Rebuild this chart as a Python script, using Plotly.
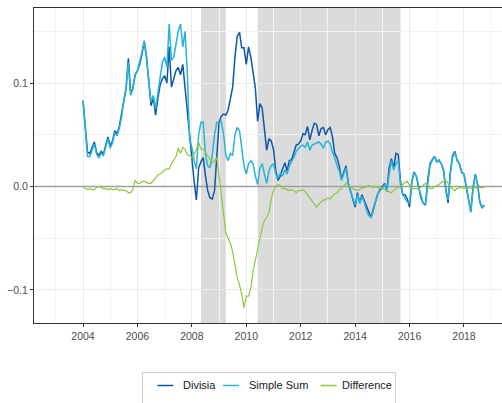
import numpy as np
import plotly.graph_objects as go

# Monthly growth series, Jan 2004 - Oct 2018
start_year = 2004
divisia = [
    # 2004
    0.083, 0.058, 0.033, 0.032, 0.038, 0.043, 0.033, 0.030, 0.034, 0.031, 0.040, 0.048,
    # 2005
    0.039, 0.044, 0.054, 0.051, 0.058, 0.070, 0.086, 0.095, 0.124, 0.090, 0.095, 0.108,
    # 2006
    0.112, 0.118, 0.128, 0.140, 0.125, 0.100, 0.078, 0.086, 0.069, 0.085, 0.098, 0.104,
    # 2007
    0.107, 0.100, 0.135, 0.096, 0.105, 0.112, 0.115, 0.108, 0.118, 0.095, 0.070, 0.045,
    # 2008
    0.022, 0.005, -0.013, 0.018, 0.024, 0.028, 0.010, -0.004, -0.011, -0.012, -0.004, 0.030,
    # 2009
    0.062, 0.068, 0.070, 0.069, 0.074, 0.085, 0.096, 0.125, 0.145, 0.149, 0.134, 0.134,
    # 2010
    0.118, 0.135, 0.125, 0.110, 0.095, 0.063, 0.080, 0.076, 0.058, 0.035, 0.046, 0.044,
    # 2011
    0.036, 0.015, 0.006, 0.010, 0.017, 0.023, 0.015, 0.025, 0.026, 0.032, 0.040, 0.041,
    # 2012
    0.044, 0.051, 0.050, 0.058, 0.045, 0.054, 0.061, 0.060, 0.049, 0.056, 0.057, 0.050,
    # 2013
    0.055, 0.057, 0.048, 0.032, 0.028, 0.020, 0.007, 0.014, 0.020, 0.003, -0.004, -0.012,
    # 2014
    -0.020, -0.006, -0.016, -0.008, -0.014, -0.020, -0.026, -0.030, -0.022, -0.013, -0.007, -0.003,
    # 2015
    0.000, 0.003, -0.004, 0.018, 0.027, 0.018, 0.032, 0.031, 0.005, -0.008, -0.008, -0.012,
    # 2016
    -0.020, 0.005, 0.014, 0.010, 0.000, -0.011, -0.016, -0.018, 0.006, 0.022, 0.026, 0.029,
    # 2017
    0.024, 0.025, 0.022, 0.016, -0.003, -0.016, 0.014, 0.030, 0.034, 0.025, 0.022, 0.014,
    # 2018
    0.012, -0.002, -0.012, -0.024, -0.001, 0.012, 0.002, -0.015, -0.020, -0.018,
]
simple_sum = [
    # 2004
    0.083, 0.055, 0.029, 0.029, 0.035, 0.041, 0.031, 0.028, 0.032, 0.030, 0.038, 0.046,
    # 2005
    0.037, 0.042, 0.052, 0.049, 0.056, 0.067, 0.083, 0.095, 0.120, 0.088, 0.095, 0.108,
    # 2006
    0.112, 0.120, 0.130, 0.141, 0.125, 0.102, 0.082, 0.088, 0.075, 0.090, 0.104, 0.120,
    # 2007
    0.125, 0.115, 0.157, 0.122, 0.125, 0.140, 0.150, 0.157, 0.135, 0.150, 0.110, 0.045,
    # 2008
    0.038, 0.025, 0.017, 0.050, 0.062, 0.062, 0.030, 0.020, 0.018, 0.030, 0.050, 0.062,
    # 2009
    0.062, 0.063, 0.050, 0.030, 0.025, 0.032, 0.030, 0.050, 0.057, 0.054, 0.035, 0.020,
    # 2010
    0.012, 0.022, 0.025, 0.022, 0.010, 0.002, 0.018, 0.022, 0.012, 0.003, 0.015, 0.020,
    # 2011
    0.022, 0.012, 0.008, 0.013, 0.010, 0.016, 0.012, 0.020, 0.024, 0.028, 0.034, 0.037,
    # 2012
    0.039, 0.040, 0.038, 0.043, 0.035, 0.040, 0.041, 0.042, 0.043, 0.041, 0.037, 0.043,
    # 2013
    0.044, 0.041, 0.033, 0.028, 0.020, 0.015, 0.006, 0.012, 0.018, 0.002, -0.004, -0.010,
    # 2014
    -0.018, -0.008, -0.016, -0.010, -0.015, -0.023, -0.028, -0.030, -0.024, -0.014, -0.007, -0.004,
    # 2015
    -0.002, 0.002, -0.005, 0.012, 0.025, 0.016, 0.022, 0.025, 0.002, -0.008, -0.012, -0.015,
    # 2016
    -0.016, 0.004, 0.013, 0.010, -0.001, -0.010, -0.016, -0.017, 0.004, 0.020, 0.025, 0.029,
    # 2017
    0.024, 0.026, 0.022, 0.015, -0.002, -0.013, 0.013, 0.028, 0.033, 0.026, 0.022, 0.013,
    # 2018
    0.012, -0.003, -0.013, -0.025, -0.002, 0.012, 0.001, -0.016, -0.021, -0.018,
]
difference = [
    # 2004
    0.000, -0.002, -0.003, -0.002, -0.003, -0.003, -0.001, 0.000, -0.001, -0.002, -0.002, -0.003,
    # 2005
    -0.002, -0.003, -0.003, -0.002, -0.004, -0.003, -0.004, -0.004, -0.006, -0.006, -0.003, 0.006,
    # 2006
    0.003, 0.003, 0.005, 0.005, 0.004, 0.003, 0.003, 0.006, 0.009, 0.011, 0.012, 0.014,
    # 2007
    0.016, 0.017, 0.017, 0.022, 0.025, 0.029, 0.037, 0.032, 0.038, 0.036, 0.031, 0.030,
    # 2008
    0.028, 0.031, 0.036, 0.043, 0.036, 0.036, 0.033, 0.030, 0.026, 0.023, 0.025, 0.028,
    # 2009
    0.010, -0.008, -0.025, -0.045, -0.050, -0.055, -0.063, -0.078, -0.088, -0.095, -0.104, -0.117,
    # 2010
    -0.106, -0.106, -0.098, -0.082, -0.070, -0.060, -0.050, -0.040, -0.033, -0.030, -0.025, -0.012,
    # 2011
    -0.004, 0.000, 0.002, 0.001, -0.002, -0.002, -0.003, -0.004, -0.003, -0.004, -0.006, -0.004,
    # 2012
    -0.004, -0.003, -0.005, -0.008, -0.012, -0.015, -0.018, -0.020, -0.017, -0.015, -0.013, -0.013,
    # 2013
    -0.011, -0.012, -0.009, -0.007, -0.006, -0.003, -0.002, 0.001, 0.003, 0.001, -0.001, -0.002,
    # 2014
    -0.003, -0.004, -0.003, -0.001, -0.001, 0.000, 0.001, 0.000, -0.001, 0.000, -0.001, -0.002,
    # 2015
    -0.001, -0.003, -0.004, -0.005, -0.006, -0.004, -0.002, -0.001, 0.000, 0.002, 0.004, 0.005,
    # 2016
    0.002, -0.002, -0.002, -0.002, -0.002, -0.001, 0.001, 0.003, 0.001, -0.002, -0.002, 0.000,
    # 2017
    0.001, 0.002, 0.004, 0.005, 0.006, 0.003, -0.001, -0.002, -0.004, -0.002, -0.001, -0.001,
    # 2018
    -0.002, -0.001, -0.001, -0.002, -0.001, -0.001, -0.002, -0.001, -0.001, -0.001,
]

# Shaded periods (decimal years)
shade_start = [2008 + 4 / 12, 2010 + 5 / 12]
shade_end = [2009 + 3 / 12, 2015 + 8 / 12]

x_ticks = [2004, 2006, 2008, 2010, 2012, 2014, 2016, 2018]
x_minor = [2003, 2005, 2007, 2009, 2011, 2013, 2015, 2017, 2019]
y_ticks = [-0.1, 0.0, 0.1]
y_tick_text = ["\u22120.1", "0.0", "0.1"]
y_minor = [-0.05, 0.05, 0.15]

series_names = ["Divisia", "Simple Sum", "Difference"]
series_colors = ["#0f57a8", "#26b4dd", "#8dc63f"]
series_widths = [1.5, 1.5, 1.2]

months = np.arange(len(divisia))
x = start_year + months / 12.0

fig = go.Figure()
for name, ys, col, w in zip(series_names, [divisia, simple_sum, difference],
                            series_colors, series_widths):
    fig.add_trace(go.Scatter(x=x, y=ys, mode="lines", name=name,
                             line=dict(color=col, width=w), showlegend=False))

for s, e in zip(shade_start, shade_end):
    fig.add_shape(type="rect", xref="x", yref="paper", x0=s, x1=e, y0=0, y1=1,
                  fillcolor="rgba(0,0,0,0.14)", line=dict(width=0), layer="between")

# Reference line at zero, above the shading and under the series
fig.add_shape(type="line", xref="x", yref="y", x0=2002.199, x1=2019.397, y0=0, y1=0,
              line=dict(color="#9e9e9e", width=1.6), layer="between")

# Legend drawn as a boxed row underneath the panel
fig.add_shape(type="rect", xref="paper", yref="paper", x0=0.2318, x1=0.7724,
              y0=-0.2762, y1=-0.1571, line=dict(color="#cccccc", width=1),
              fillcolor="white")
leg_line_x = [(0.2639, 0.2981), (0.4038, 0.4380), (0.6122, 0.6464)]
leg_text_x = [0.3141, 0.4551, 0.6528]
for name, col, (a, b), tx in zip(series_names, series_colors, leg_line_x, leg_text_x):
    fig.add_shape(type="line", xref="paper", yref="paper", x0=a, x1=b,
                  y0=-0.1984, y1=-0.1984, line=dict(color=col, width=1.5))
    fig.add_annotation(xref="paper", yref="paper", x=tx, y=-0.1984, text=name,
                       showarrow=False, xanchor="left", yanchor="middle",
                       font=dict(size=11, color="#1a1a1a"))

fig.update_layout(
    width=502, height=403,
    margin=dict(l=34, r=0, t=8, b=80),
    paper_bgcolor="white", plot_bgcolor="white",
    font=dict(family="Liberation Sans, Arial, sans-serif"),
    showlegend=False,
)
fig.update_xaxes(
    range=[2002.199, 2019.397],
    tickvals=x_ticks, ticktext=[str(v) for v in x_ticks],
    tickfont=dict(size=10.5, color="#4d4d4d"),
    showgrid=True, gridcolor="#ebebeb", gridwidth=1.1,
    minor=dict(tickvals=x_minor, showgrid=True, gridcolor="#f3f3f3", gridwidth=0.8),
    showline=True, linecolor="#333333", linewidth=1.2, mirror=True,
    ticks="outside", ticklen=3, tickcolor="#333333", tickwidth=1,
    zeroline=False,
)
fig.update_yaxes(
    range=[-0.1319, 0.1725],
    tickvals=y_ticks, ticktext=y_tick_text,
    tickfont=dict(size=10.5, color="#4d4d4d"),
    showgrid=True, gridcolor="#ebebeb", gridwidth=1.1,
    minor=dict(tickvals=y_minor, showgrid=True, gridcolor="#f3f3f3", gridwidth=0.8),
    showline=True, linecolor="#333333", linewidth=1.2, mirror=False,
    ticks="outside", ticklen=3, tickcolor="#333333", tickwidth=1,
    zeroline=False,
)

fig.write_html("out.html")
